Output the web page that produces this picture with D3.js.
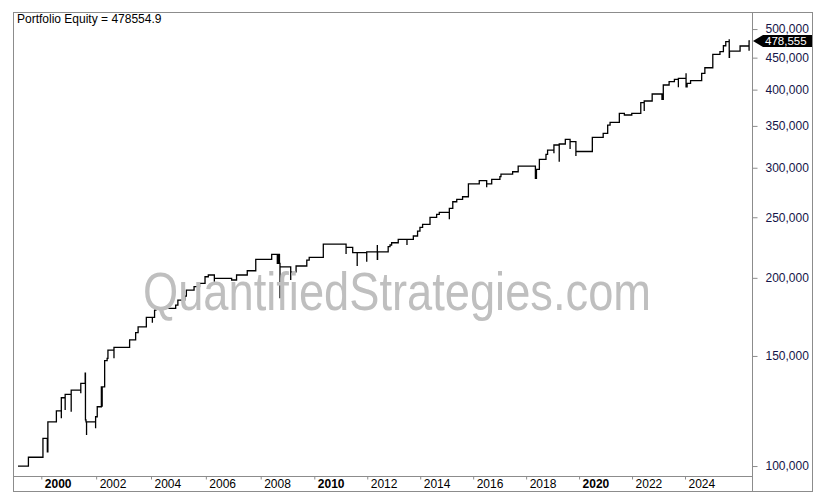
<!DOCTYPE html>
<html lang="en">
  <head>
    <meta charset="UTF-8" />
    <title>Portfolio Equity</title>
    <style>
      body { margin: 0; background: #fff; }
      svg { display: block; font-family: "Liberation Sans", Arial, sans-serif; }
    </style>
  </head>
  <body>
    <script src="https://cdn.jsdelivr.net/npm/d3@7"></script>
    <script>
      // equity curve (decimal years, dollars)
      // repeated years are the short intraday drops drawn as spikes
      var years = [
        1999.15, 1999.53, 2000.06, 2000.22, 2000.24, 2000.55, 2000.73, 2000.73, 2000.87, 2000.87,
        2001.09, 2001.09, 2001.44, 2001.44, 2001.60, 2001.61, 2001.63, 2001.65, 2001.65, 2001.98,
        2001.98, 2002.04, 2002.19, 2002.22, 2002.22, 2002.31, 2002.40, 2002.43, 2002.65, 2002.65,
        2003.22, 2003.44, 2003.53, 2003.83, 2004.05, 2004.05, 2004.13, 2004.18, 2004.90, 2004.98,
        2005.23, 2005.29, 2005.57, 2005.77, 2005.97, 2006.09, 2006.31, 2006.31, 2006.94, 2007.12,
        2007.51, 2007.82, 2008.41, 2008.62, 2008.66, 2008.70, 2008.72, 2008.72, 2009.12, 2009.12,
        2009.32, 2009.72, 2009.81, 2010.34, 2011.20, 2011.20, 2011.45, 2011.62, 2011.62, 2011.98,
        2011.98, 2012.38, 2012.38, 2012.39, 2012.79, 2012.86, 2012.92, 2013.17, 2013.50, 2013.50,
        2013.74, 2013.90, 2013.99, 2014.09, 2014.37, 2014.62, 2014.72, 2015.10, 2015.10, 2015.23,
        2015.38, 2015.60, 2015.82, 2016.23, 2016.51, 2016.51, 2016.70, 2017.01, 2017.05, 2017.49,
        2017.70, 2018.35, 2018.39, 2018.50, 2018.75, 2018.81, 2019.05, 2019.05, 2019.25, 2019.25,
        2019.48, 2019.66, 2019.66, 2019.88, 2019.88, 2020.50, 2020.91, 2021.08, 2021.17, 2021.52,
        2021.71, 2021.99, 2022.33, 2022.46, 2022.46, 2022.76, 2023.13, 2023.18, 2023.40, 2023.60,
        2023.75, 2023.75, 2024.04, 2024.04, 2024.08, 2024.21, 2024.63, 2024.75, 2025.05, 2025.32,
        2025.45, 2025.54, 2025.67, 2025.67, 2025.68, 2026.08, 2026.42, 2026.42, 2026.45
      ];
      var equity = [
        100000, 103300, 110700, 105400, 117700, 122500, 119300, 128600, 122900, 130200,
        122100, 132300, 130700, 135600, 140800, 118500, 117700, 112100, 117700, 114900,
        119900, 124400, 133900, 124400, 133900, 147400, 148700, 153300, 148700, 154800,
        159100, 163400, 167000, 172900, 169500, 172900, 177600, 178700, 180900, 184300,
        187000, 191200, 193600, 196000, 200800, 202100, 197100, 199600, 198400, 202100,
        205300, 214100, 218100, 210900, 218100, 210900, 185500, 208300, 198400, 204500,
        208900, 213500, 215700, 226500, 218300, 223800, 219400, 208900, 219400, 212200,
        220100, 225700, 214100, 220100, 224300, 225700, 227600, 230500, 225700, 230500,
        233300, 237600, 240900, 243600, 249900, 252700, 254600, 248100, 258400, 264700,
        267100, 269600, 282600, 286000, 279100, 282600, 287500, 290300, 293100, 295600,
        301900, 288500, 298300, 309500, 315200, 320200, 316400, 326200, 306700, 327400,
        333100, 321400, 330200, 313200, 318500, 335600, 340600, 351100, 354600, 366600,
        364300, 366600, 381200, 369700, 383600, 393600, 386000, 406900, 411900, 415500,
        403400, 417000, 424800, 404300, 409400, 413400, 424800, 433600, 455600, 460000,
        470200, 477200, 481400, 450600, 461100, 469700, 461700, 478555, 478555
      ];

      var yTicks = [100000, 150000, 200000, 250000, 300000, 350000, 400000, 450000, 500000];
      var xTicks = [2000, 2002, 2004, 2006, 2008, 2010, 2012, 2014, 2016, 2018, 2020, 2022, 2024];
      var boldYears = [2000, 2010, 2020];
      var title = "Portfolio Equity = 478554.9";
      var lastLabel = "478,555";
      var watermark = "QuantifiedStrategies.com";

      var w = 820, h = 498;
      var plot = { left: 13, top: 12, right: 752, bottom: 476 };
      var frame = { right: 812, bottom: 491 };

      var svg = d3.select("body")
                  .append("svg")
                  .attr("width", w)
                  .attr("height", h);

      // the date axis is bar based, so the years are not evenly spaced
      var xScale = d3.scaleLinear()
                     .domain([2000, 2008, 2010, 2024])
                     .range([41.3, 260.7, 314.3, 685]);

      var yScale = d3.scaleLog()
                     .domain([96400, 532400])
                     .range([plot.bottom, plot.top]);

      // frame
      var frameColor = "#8c8c8c";
      svg.append("rect")
         .attr("x", plot.left + 0.5)
         .attr("y", plot.top + 0.5)
         .attr("width", frame.right - plot.left)
         .attr("height", frame.bottom - plot.top)
         .attr("fill", "none")
         .attr("stroke", frameColor);
      svg.append("line")
         .attr("x1", plot.right + 0.5).attr("x2", plot.right + 0.5)
         .attr("y1", plot.top).attr("y2", frame.bottom)
         .attr("stroke", frameColor);
      svg.append("line")
         .attr("x1", plot.left).attr("x2", plot.right)
         .attr("y1", plot.bottom + 0.5).attr("y2", plot.bottom + 0.5)
         .attr("stroke", frameColor);

      // y axis on the right
      var yAxis = d3.axisRight(yScale)
                    .tickValues(yTicks)
                    .tickFormat(d3.format(","))
                    .tickSize(5)
                    .tickPadding(8);
      var gy = svg.append("g")
                  .attr("transform", "translate(" + (plot.right + 0.5) + ",0)")
                  .call(yAxis);
      gy.select(".domain").remove();
      gy.selectAll(".tick line").attr("stroke", frameColor);
      gy.selectAll(".tick text")
        .attr("fill", "#141448")
        .attr("font-size", "12px")
        .attr("font-family", "'Liberation Sans', Arial, sans-serif");

      // x axis under the plot
      var xAxis = d3.axisBottom(xScale)
                    .tickValues(xTicks)
                    .tickFormat(d3.format("d"))
                    .tickSize(3);
      var gx = svg.append("g")
                  .attr("transform", "translate(0," + (plot.bottom + 0.5) + ")")
                  .call(xAxis);
      gx.select(".domain").remove();
      gx.selectAll(".tick line").attr("stroke", frameColor);
      gx.selectAll(".tick text")
        .attr("text-anchor", "start")
        .attr("x", 3)
        .attr("y", 11)
        .attr("dy", 0)
        .attr("fill", "#000")
        .attr("font-size", "12px")
        .attr("font-family", "'Liberation Sans', Arial, sans-serif")
        .attr("font-weight", function(d) {
          return boldYears.indexOf(d) >= 0 ? "bold" : "normal";
        });

      // equity line
      var data = years.map(function(d, i) { return [d, equity[i]]; });
      var line = d3.line()
                   .x(function(d) { return xScale(d[0]); })
                   .y(function(d) { return yScale(d[1]); })
                   .curve(d3.curveStepAfter);

      svg.append("path")
         .datum(data)
         .attr("d", line)
         .attr("fill", "none")
         .attr("stroke", "#000")
         .attr("stroke-width", 1.3);

      // watermark sits over the line
      svg.append("text")
         .text(watermark)
         .attr("x", 143)
         .attr("y", 310)
         .attr("textLength", 508)
         .attr("lengthAdjust", "spacingAndGlyphs")
         .attr("font-size", "54px")
         .attr("font-family", "'Liberation Sans', Arial, sans-serif")
         .attr("fill", "#bfbfbf");

      // title
      svg.append("text")
         .text(title)
         .attr("x", 17)
         .attr("y", 23)
         .attr("font-size", "12px")
         .attr("fill", "#000");

      // last value marker
      var yLast = yScale(equity[equity.length - 1]);
      var tipX = plot.right + 1;
      svg.append("path")
         .attr("d", "M" + tipX + "," + yLast +
                    "L" + (tipX + 10) + "," + (yLast - 6) +
                    "L" + frame.right + "," + (yLast - 6) +
                    "L" + frame.right + "," + (yLast + 6) +
                    "L" + (tipX + 10) + "," + (yLast + 6) + "Z")
         .attr("fill", "#000");
      svg.append("text")
         .text(lastLabel)
         .attr("x", tipX + 12)
         .attr("y", yLast + 4.5)
         .attr("font-size", "11.5px")
         .attr("fill", "#fff");
    </script>
  </body>
</html>
